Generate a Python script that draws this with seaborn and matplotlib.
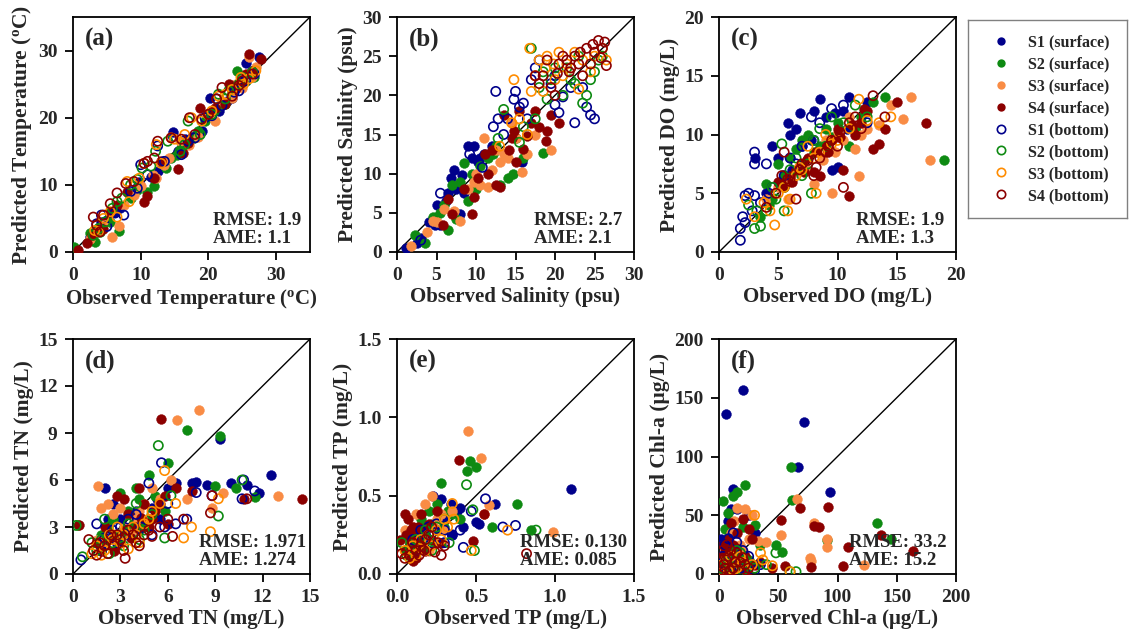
import matplotlib
matplotlib.use("Agg")
import matplotlib.pyplot as plt
from matplotlib.lines import Line2D
import seaborn as sns
import pandas as pd

# ---------------- data: (observed, predicted) pairs ----------------
series_names = ["S1 (surface)", "S2 (surface)", "S3 (surface)", "S4 (surface)",
                "S1 (bottom)", "S2 (bottom)", "S3 (bottom)", "S4 (bottom)"]

# (a) Temperature
a_s1_surf = [(3.5,3.0),(4.2,4.5),(5.0,4.8),(6.2,6.0),(7.0,6.5),(9.8,10.5),(11.5,11.2),(13.5,13.0),(14.8,17.8),(15.5,15.0),(16.5,16.8),(19.0,18.0),(20.2,23.0),(21.5,21.0),(22.8,22.5),(24.0,24.5),(25.5,28.2),(26.5,27.0),(27.5,29.0),(8.5,8.2),(12.5,12.0),(17.5,17.2),(23.5,23.0),(25.0,25.5),(2.5,2.2)]
a_s2_surf = [(0.2,0.8),(3.2,1.5),(4.0,3.0),(5.5,4.5),(6.8,3.2),(8.5,8.0),(11.0,9.0),(12.0,9.8),(13.8,12.5),(15.3,14.5),(16.0,15.5),(17.8,17.0),(19.5,19.5),(20.8,21.0),(22.5,22.0),(24.2,27.0),(25.5,25.5),(26.8,26.0),(2.5,2.8),(9.5,9.2),(14.5,14.0),(18.5,18.0),(21.5,21.8),(23.5,23.8)]
a_s3_surf = [(2.5,2.0),(3.8,3.5),(5.8,2.3),(6.8,3.8),(7.5,7.0),(10.0,9.8),(11.8,11.5),(12.3,11.0),(14.2,14.0),(15.8,16.5),(17.2,16.0),(18.5,17.2),(21.0,19.5),(22.0,22.5),(23.5,23.0),(25.0,24.5),(26.0,29.0),(27.0,27.5),(4.5,4.2),(9.0,8.5),(13.5,13.0),(20.0,20.5),(24.0,25.0),(26.5,26.0)]
a_s4_surf = [(0.8,0.3),(2.0,1.3),(2.8,2.5),(4.5,3.5),(5.5,6.0),(8.0,9.0),(10.5,7.5),(11.0,8.3),(12.0,11.0),(15.5,12.3),(16.2,14.8),(17.0,16.3),(18.8,21.5),(20.2,20.8),(22.5,22.0),(23.0,25.0),(24.8,25.2),(26.0,29.5),(26.5,27.0),(27.8,28.8),(3.5,3.5),(6.5,7.0),(13.0,13.5),(21.0,21.5),(24.0,24.5),(25.5,26.5)]
a_s1_bot = [(3.5,4.2),(5.0,3.8),(6.2,5.8),(7.5,5.5),(9.5,9.5),(10.0,13.0),(12.5,15.8),(13.5,13.5),(14.8,17.2),(16.0,14.5),(18.0,17.0),(19.5,20.0),(21.2,22.8),(22.0,21.8),(23.8,23.8),(25.5,25.5),(26.8,26.5),(4.2,5.5),(8.5,9.0),(11.0,11.5),(17.0,16.5),(20.5,20.3),(24.5,24.0)]
a_s2_bot = [(3.0,2.5),(4.8,4.5),(5.8,6.5),(7.2,8.0),(8.5,10.0),(10.2,12.5),(11.5,12.8),(12.2,15.0),(14.0,16.5),(15.8,15.0),(17.0,19.5),(18.8,17.5),(20.5,20.5),(21.5,23.5),(23.0,24.0),(25.0,26.0),(26.5,26.8),(3.8,3.5),(6.5,7.5),(9.5,10.8),(16.5,16.0),(22.5,22.8),(24.5,25.0)]
a_s3_bot = [(3.2,3.2),(4.5,5.0),(6.5,5.2),(8.3,7.5),(8.0,10.5),(10.5,13.2),(12.3,16.0),(13.0,13.2),(14.5,17.0),(16.5,17.5),(17.5,20.0),(19.0,19.5),(20.5,21.0),(21.5,23.2),(23.5,24.2),(25.2,25.0),(26.0,25.8),(27.0,27.0),(3.8,3.0),(5.5,6.0),(9.8,11.0),(15.0,16.8),(22.5,23.5),(24.8,26.0)]
a_s4_bot = [(3.0,5.2),(4.0,3.0),(5.5,7.2),(6.5,8.8),(7.8,10.2),(10.5,13.2),(11.0,13.5),(12.0,14.0),(12.5,16.5),(14.5,17.0),(17.2,20.0),(18.0,17.5),(19.0,19.8),(21.2,22.8),(22.0,24.5),(23.5,23.2),(25.0,25.5),(26.5,26.5),(3.5,4.0),(4.5,5.5),(9.0,10.5),(16.0,16.8),(20.0,20.5),(24.5,24.8)]

# (b) Salinity
b_s1_surf = [(1.2,0.5),(3.0,1.8),(4.8,3.5),(5.0,6.0),(5.5,3.5),(6.2,6.5),(6.8,9.5),(7.2,10.5),(7.5,8.0),(8.0,4.8),(8.5,7.5),(9.0,13.5),(9.5,12.0),(9.8,13.5),(10.2,11.5),(11.0,12.5),(12.0,13.5),(15.8,11.5),(2.5,1.2),(4.0,3.8),(6.5,7.5),(8.2,9.8),(10.5,12.0)]
b_s2_surf = [(2.3,2.2),(3.5,1.2),(5.5,5.0),(6.5,2.8),(7.0,8.5),(7.5,4.2),(8.5,11.3),(9.0,6.5),(9.5,10.0),(10.0,8.0),(11.5,12.0),(12.2,12.5),(13.0,8.5),(14.0,9.5),(15.0,14.5),(16.0,12.0),(18.5,12.7),(14.7,10.0),(4.5,4.5),(6.0,6.0),(8.0,9.0),(10.5,11.0),(12.5,13.5)]
b_s3_surf = [(1.8,0.8),(3.8,2.5),(4.5,4.0),(6.0,5.5),(7.2,5.2),(8.0,4.0),(9.8,9.0),(10.5,8.5),(11.0,14.5),(11.5,8.3),(12.0,10.5),(13.0,11.5),(14.0,12.0),(15.0,14.5),(15.8,10.2),(16.5,12.5),(17.5,15.0),(19.5,13.0),(14.5,16.5),(5.0,3.8),(9.0,8.0),(10.0,10.0),(12.5,13.0),(13.5,12.5)]
b_s4_surf = [(5.8,3.5),(6.5,6.8),(7.0,4.8),(9.5,4.8),(9.8,7.0),(10.2,9.5),(11.2,12.5),(12.5,8.5),(13.0,8.3),(13.5,17.5),(14.2,13.0),(14.8,15.5),(15.0,11.5),(15.5,18.0),(16.0,13.2),(17.0,16.5),(18.0,16.0),(19.0,15.5),(19.5,17.5),(20.5,16.5),(18.8,14.2),(8.5,8.0),(11.5,10.0),(12.0,13.0),(14.5,14.5),(16.5,14.8),(17.5,18.0)]
b_s1_bot = [(3.0,1.5),(5.5,7.5),(9.2,12.5),(10.8,10.8),(12.2,16.0),(12.5,20.5),(12.8,17.0),(13.5,15.0),(14.8,19.5),(15.0,20.5),(16.0,19.0),(16.5,17.0),(17.5,23.5),(18.0,24.5),(19.5,21.5),(20.0,18.8),(20.5,17.8),(21.0,19.8),(22.5,16.5),(23.5,21.0),(24.0,18.5),(24.5,17.5),(25.0,17.0),(20.0,22.5),(14.0,17.0),(15.5,18.5),(17.0,22.0),(22.0,21.0)]
b_s2_bot = [(12.8,14.5),(13.5,18.2),(15.5,14.0),(17.0,26.0),(17.5,17.0),(18.0,21.0),(18.5,23.0),(19.0,19.5),(20.0,23.5),(21.0,20.0),(22.0,22.0),(22.5,21.5),(23.0,25.0),(23.5,19.0),(24.5,22.0),(25.0,23.0),(25.5,24.5),(26.0,25.0),(16.0,16.0),(19.5,22.0),(21.5,23.5),(24.0,20.0)]
b_s3_bot = [(13.0,13.5),(14.5,16.5),(14.8,22.0),(16.5,15.0),(16.8,26.0),(17.0,20.5),(17.5,22.5),(18.0,24.5),(18.5,20.5),(19.0,25.0),(20.0,22.0),(20.5,25.5),(21.5,24.0),(22.0,23.5),(23.0,20.8),(23.5,24.5),(24.5,23.0),(25.0,25.0),(26.0,26.0),(26.5,24.5),(15.5,17.0),(18.8,23.5),(19.8,24.0),(21.0,22.5),(22.5,25.5)]
b_s4_bot = [(17.5,22.5),(18.0,21.5),(18.5,22.5),(19.0,24.5),(19.5,21.0),(20.0,20.0),(20.5,24.0),(21.0,25.0),(21.5,24.5),(22.0,23.5),(22.5,25.0),(23.0,24.0),(23.5,22.5),(24.0,26.0),(24.5,24.0),(25.0,25.5),(25.5,27.0),(26.0,26.0),(26.5,23.8),(26.3,26.8),(20.3,22.8),(21.8,23.0),(23.2,25.5),(24.8,26.5),(25.8,24.8)]

# (c) DO
c_s1_surf = [(3.0,8.0),(4.5,9.0),(5.0,8.0),(5.5,6.5),(5.8,11.0),(6.0,10.0),(6.5,10.5),(6.8,11.8),(7.0,9.0),(7.5,7.0),(8.0,12.0),(8.5,13.0),(9.0,11.5),(9.5,7.0),(10.0,7.2),(10.5,12.0),(11.0,13.2),(11.5,10.5),(12.5,12.8),(4.0,5.0),(6.2,7.0),(7.8,9.5),(9.8,11.8),(10.8,10.5)]
c_s2_surf = [(3.5,3.0),(4.0,5.8),(4.5,4.5),(5.0,7.5),(5.5,6.5),(6.0,8.0),(7.0,9.5),(7.5,10.0),(8.0,8.5),(9.0,10.5),(10.0,11.0),(11.0,9.0),(12.0,11.5),(13.0,12.8),(14.0,13.2),(19.0,7.8),(6.5,8.8),(4.2,4.0),(5.8,6.0),(6.8,7.0),(8.5,9.0),(9.5,9.8),(11.5,10.5)]
c_s3_surf = [(4.0,4.5),(5.0,5.5),(5.8,4.5),(6.0,6.0),(7.0,7.5),(8.0,5.8),(8.5,8.5),(9.0,9.5),(9.5,5.0),(10.0,10.2),(11.0,11.5),(11.5,8.8),(11.8,6.5),(12.5,10.5),(13.5,10.8),(14.5,12.5),(15.5,11.3),(16.2,13.2),(17.8,7.8),(6.5,6.8),(7.5,7.0),(8.8,7.8),(9.8,8.5),(10.5,9.5),(12.0,10.0)]
c_s4_surf = [(5.0,6.0),(5.5,5.5),(6.0,6.5),(6.5,7.0),(7.0,7.5),(7.5,8.0),(8.0,6.8),(8.5,6.5),(9.0,9.0),(9.5,9.5),(10.0,10.5),(10.5,7.0),(11.0,4.8),(11.5,10.0),(12.0,11.0),(12.5,12.0),(13.0,8.8),(13.5,9.2),(14.0,10.5),(15.0,12.8),(17.5,11.0),(6.2,6.0),(7.2,6.8),(8.2,8.5),(9.2,8.5),(10.2,9.8),(11.2,10.8),(12.2,12.2)]
c_s1_bot = [(1.8,1.0),(1.8,2.0),(2.0,3.0),(2.2,2.5),(2.5,5.0),(2.2,4.8),(2.8,3.5),(3.0,4.8),(3.0,8.5),(3.0,7.5),(4.0,7.5),(4.5,5.5),(5.5,6.5),(6.0,8.0),(7.0,9.0),(7.8,11.5),(8.5,11.0),(9.5,12.2),(10.5,12.5),(12.5,11.0),(3.5,4.2),(4.2,5.0),(6.5,7.5),(8.0,9.5)]
c_s2_bot = [(2.5,4.0),(3.0,2.0),(3.2,3.5),(3.5,2.2),(4.0,3.5),(4.8,4.5),(5.3,9.2),(5.5,3.5),(6.0,7.0),(6.5,8.0),(7.5,7.5),(7.8,5.0),(8.0,9.5),(8.5,10.5),(9.5,11.5),(10.5,11.0),(11.5,12.5),(12.5,11.5),(4.5,5.5),(5.5,5.5),(7.0,6.5),(9.0,9.0)]
c_s3_bot = [(2.3,4.5),(3.0,3.0),(3.8,4.2),(4.3,3.5),(4.7,2.3),(5.0,5.0),(5.8,3.5),(6.0,4.5),(6.5,6.5),(7.0,7.0),(7.5,9.0),(8.2,5.0),(8.5,8.5),(9.0,10.0),(10.0,9.5),(11.0,10.5),(11.8,13.0),(13.5,11.0),(14.5,11.5),(5.5,5.5),(6.8,7.2),(8.0,8.0),(9.5,9.2),(12.5,11.2)]
c_s4_bot = [(4.0,3.8),(4.8,5.0),(5.3,6.5),(5.5,8.5),(6.0,6.0),(6.5,4.5),(6.8,7.0),(7.5,7.8),(8.0,6.5),(8.5,8.0),(9.0,8.5),(9.5,9.5),(10.0,9.0),(10.5,5.5),(11.0,11.0),(12.0,10.5),(13.0,13.3),(14.0,11.5),(5.8,6.2),(7.0,7.5),(8.2,7.2),(9.2,9.0),(10.2,10.2),(11.5,11.5)]

# (d) TN
d_s1_surf = [(2.0,5.5),(2.5,4.5),(3.0,3.5),(3.5,2.5),(4.0,4.0),(4.5,3.0),(5.0,4.2),(5.5,3.5),(6.0,5.5),(6.5,5.8),(7.5,5.8),(7.8,5.9),(8.5,5.7),(9.3,8.6),(10.0,5.8),(11.0,5.7),(11.8,5.2),(12.5,6.3),(4.2,2.8),(2.2,3.5),(3.2,3.0),(4.8,3.5),(5.3,4.8)]
d_s2_surf = [(0.3,3.1),(1.8,2.5),(2.5,3.5),(3.0,5.2),(3.5,4.0),(4.0,5.5),(4.5,3.0),(4.8,6.3),(5.2,5.0),(5.8,4.0),(6.0,7.1),(7.2,9.2),(9.0,5.6),(9.3,8.8),(10.3,5.5),(11.5,4.9),(2.2,3.0),(2.8,2.5),(3.8,3.2),(4.2,4.8),(1.5,2.0)]
d_s3_surf = [(1.6,5.6),(1.8,4.2),(2.2,4.5),(2.5,3.8),(3.0,4.2),(3.5,2.5),(4.0,3.5),(4.5,4.5),(5.0,5.5),(5.5,4.8),(6.2,6.0),(6.6,9.8),(7.2,4.8),(8.0,10.5),(8.8,4.2),(9.5,5.2),(13.0,5.0),(2.0,2.0),(1.5,2.2),(2.8,2.0),(3.2,3.0),(3.8,2.8),(4.2,4.0),(4.8,3.5),(1.8,1.5)]
d_s4_surf = [(0.4,3.1),(1.5,2.0),(2.0,3.0),(2.5,2.5),(2.8,5.0),(3.2,4.8),(3.5,3.8),(4.0,3.0),(4.2,5.5),(4.5,4.5),(5.0,3.5),(5.5,4.5),(5.6,9.9),(6.0,3.2),(6.5,5.5),(7.5,5.3),(10.8,4.8),(14.5,4.8),(3.0,2.0),(1.8,1.5),(2.2,2.2),(2.6,1.5),(3.3,2.8),(3.7,2.3),(4.3,3.6),(4.8,3.0),(5.2,4.0),(5.8,5.0)]
d_s1_bot = [(0.5,0.9),(1.5,3.2),(2.0,2.3),(2.5,2.8),(3.0,3.0),(3.5,3.5),(4.0,3.8),(4.8,5.8),(5.0,2.5),(5.6,7.1),(5.8,3.0),(6.0,4.5),(6.5,3.2),(7.2,3.5),(7.8,5.2),(8.8,5.0),(10.7,4.8),(11.5,5.3),(10.8,6.0),(1.8,1.5),(2.8,2.0),(3.3,2.5),(4.3,3.0)]
d_s2_bot = [(0.2,3.1),(0.6,1.1),(1.5,1.5),(2.0,3.5),(2.5,2.0),(3.0,2.5),(3.5,3.2),(4.0,4.5),(4.5,2.8),(5.0,3.8),(5.4,8.2),(5.8,2.3),(6.2,5.0),(9.2,3.7),(10.7,6.0),(1.2,2.0),(1.8,2.2),(2.3,1.3),(3.2,1.8),(4.2,2.2)]
d_s3_bot = [(1.5,1.8),(2.0,1.5),(2.5,2.2),(3.0,2.0),(3.5,1.6),(4.0,2.5),(4.5,3.2),(5.0,4.0),(5.5,4.5),(5.8,6.6),(6.5,4.5),(7.0,2.3),(7.5,3.0),(8.7,2.7),(9.2,4.8),(4.8,3.5),(2.8,3.0),(1.2,1.3),(1.8,1.2),(2.3,2.5),(3.2,2.5),(3.8,3.0),(4.2,2.0)]
d_s4_bot = [(1.0,2.2),(1.3,1.5),(1.7,2.0),(2.2,1.3),(2.6,1.8),(3.0,2.2),(3.3,1.0),(3.5,2.8),(4.0,2.0),(4.5,2.5),(5.0,2.4),(5.5,3.0),(6.0,3.5),(6.3,2.4),(7.0,3.5),(8.7,3.9),(8.8,5.0),(11.0,4.8),(2.8,2.5),(1.5,1.2),(2.0,1.8),(2.4,2.5),(3.2,1.5),(3.8,2.5),(4.2,1.8),(4.8,2.8)]

# (e) TP
e_s1_surf = [(0.10,0.20),(0.15,0.25),(0.20,0.30),(0.23,0.50),(0.28,0.48),(0.30,0.35),(0.34,0.45),(0.38,0.40),(0.40,0.42),(0.42,0.30),(0.50,0.33),(0.52,0.32),(0.62,0.45),(1.10,0.54),(0.35,0.25),(0.12,0.18),(0.18,0.22),(0.25,0.28),(0.32,0.38)]
e_s2_surf = [(0.08,0.25),(0.15,0.35),(0.20,0.40),(0.25,0.45),(0.28,0.58),(0.32,0.40),(0.40,0.35),(0.44,0.66),(0.46,0.72),(0.50,0.68),(0.60,0.30),(0.76,0.45),(0.85,0.28),(0.30,0.30),(0.12,0.22),(0.10,0.18),(0.18,0.30),(0.22,0.32),(0.35,0.38)]
e_s3_surf = [(0.05,0.28),(0.10,0.30),(0.12,0.38),(0.18,0.45),(0.22,0.50),(0.25,0.35),(0.30,0.28),(0.35,0.40),(0.45,0.91),(0.53,0.74),(0.55,0.38),(0.58,0.44),(0.99,0.27),(0.15,0.20),(0.20,0.15),(0.08,0.20),(0.12,0.15),(0.18,0.25),(0.22,0.30),(0.28,0.38)]
e_s4_surf = [(0.02,0.22),(0.05,0.38),(0.07,0.35),(0.10,0.15),(0.10,0.30),(0.12,0.25),(0.14,0.20),(0.15,0.38),(0.18,0.28),(0.20,0.32),(0.25,0.40),(0.28,0.20),(0.39,0.73),(0.48,0.21),(0.55,0.38),(0.08,0.12),(0.12,0.10),(0.05,0.15),(0.06,0.25),(0.08,0.20),(0.09,0.28),(0.11,0.18),(0.13,0.30),(0.16,0.24),(0.18,0.15),(0.22,0.22),(0.10,0.08)]
e_s1_bot = [(0.10,0.22),(0.15,0.28),(0.20,0.30),(0.25,0.32),(0.30,0.20),(0.35,0.25),(0.40,0.28),(0.42,0.17),(0.47,0.40),(0.56,0.48),(0.67,0.30),(0.75,0.31),(0.18,0.25),(0.12,0.15),(0.22,0.20),(0.30,0.28)]
e_s2_bot = [(0.03,0.20),(0.08,0.15),(0.12,0.22),(0.18,0.28),(0.25,0.30),(0.30,0.35),(0.33,0.20),(0.44,0.57),(0.48,0.41),(0.49,0.15),(0.88,0.28),(0.22,0.15),(0.06,0.12),(0.15,0.18),(0.20,0.22)]
e_s3_bot = [(0.05,0.15),(0.10,0.18),(0.15,0.22),(0.20,0.25),(0.25,0.28),(0.30,0.35),(0.35,0.45),(0.36,0.35),(0.47,0.15),(0.70,0.28),(0.12,0.12),(0.22,0.18),(0.08,0.10),(0.18,0.15),(0.28,0.22),(0.32,0.30)]
e_s4_bot = [(0.03,0.13),(0.08,0.12),(0.12,0.15),(0.15,0.18),(0.18,0.22),(0.22,0.30),(0.24,0.14),(0.28,0.12),(0.30,0.18),(0.82,0.13),(0.20,0.25),(0.05,0.10),(0.10,0.20),(0.14,0.12),(0.17,0.15),(0.26,0.20)]

# (f) Chl-a
f_s1_surf = [(2,30),(5,25),(6,136),(8,45),(10,55),(12,72),(15,55),(20,157),(25,50),(30,35),(67,91),(72,129),(94,70),(3,10),(8,18),(15,8),(4,5),(6,12),(9,20),(12,3),(18,14)]
f_s2_surf = [(3,62),(5,38),(8,52),(12,66),(15,70),(20,40),(22,76),(30,42),(35,25),(48,25),(53,19),(61,91),(62,63),(91,29),(133,43),(145,30),(10,15),(18,8),(4,8),(7,20),(14,5),(22,3),(25,12)]
f_s3_surf = [(5,15),(8,25),(10,35),(13,45),(15,56),(20,20),(22,55),(25,30),(28,50),(33,28),(40,27),(52,33),(66,64),(77,14),(78,11),(80,43),(91,30),(91,23),(122,8),(3,5),(12,8),(2,2),(6,18),(9,6),(16,12),(18,25),(24,5)]
f_s4_surf = [(2,5),(4,10),(5,20),(8,30),(10,43),(12,25),(15,35),(20,47),(25,38),(28,30),(35,10),(45,5),(52,46),(56,7),(68,56),(78,6),(80,41),(84,40),(92,57),(105,7),(109,23),(137,33),(164,20),(6,3),(10,2),(1,8),(3,15),(4,2),(5,12),(7,6),(9,18),(11,10),(13,4),(14,22),(17,12),(19,5),(22,15),(24,2),(30,8),(3,25),(8,10)]
f_s1_bot = [(3,15),(5,25),(8,30),(12,35),(15,27),(20,20),(25,15),(30,3),(35,8),(18,5),(10,10),(6,5),(14,12)]
f_s2_bot = [(2,5),(5,10),(8,12),(15,20),(18,18),(22,12),(30,5),(40,8),(48,18),(60,2),(65,2),(12,3),(9,6),(20,3)]
f_s3_bot = [(3,8),(6,12),(10,15),(15,5),(20,10),(28,8),(35,18),(37,12),(45,7),(60,2),(30,50),(8,2),(12,3),(18,15)]
f_s4_bot = [(2,3),(4,8),(6,12),(8,15),(10,20),(12,5),(15,18),(18,10),(22,8),(25,5),(3,20),(7,25),(5,5),(9,3),(14,10),(20,14)]

panel_labels = ["(a)", "(b)", "(c)", "(d)", "(e)", "(f)"]
x_labels = ["Observed Temperature ($^{\\mathrm{o}}$C)", "Observed Salinity (psu)", "Observed DO (mg/L)",
            "Observed TN (mg/L)", "Observed TP (mg/L)", "Observed Chl-a (\u03bcg/L)"]
y_labels = ["Predicted Temperature ($^{\\mathrm{o}}$C)", "Predicted Salinity (psu)", "Predicted DO (mg/L)",
            "Predicted TN (mg/L)", "Predicted TP (mg/L)", "Predicted Chl-a (\u03bcg/L)"]
rmse_vals = ["1.9", "2.7", "1.9", "1.971", "0.130", "33.2"]
ame_vals = ["1.1", "2.1", "1.3", "1.274", "0.085", "15.2"]
axis_max = [35, 30, 20, 15, 1.5, 200]
tick_vals = [[0, 10, 20, 30], [0, 5, 10, 15, 20, 25, 30], [0, 5, 10, 15, 20],
             [0, 3, 6, 9, 12, 15], [0.0, 0.5, 1.0, 1.5], [0, 50, 100, 150, 200]]
tick_fmt = ["{:.0f}", "{:.0f}", "{:.0f}", "{:.0f}", "{:.1f}", "{:.0f}"]
stat_x = [0.59, 0.58, 0.58, 0.53, 0.52, 0.55]

panel_data = [
    [a_s1_surf, a_s2_surf, a_s3_surf, a_s4_surf, a_s1_bot, a_s2_bot, a_s3_bot, a_s4_bot],
    [b_s1_surf, b_s2_surf, b_s3_surf, b_s4_surf, b_s1_bot, b_s2_bot, b_s3_bot, b_s4_bot],
    [c_s1_surf, c_s2_surf, c_s3_surf, c_s4_surf, c_s1_bot, c_s2_bot, c_s3_bot, c_s4_bot],
    [d_s1_surf, d_s2_surf, d_s3_surf, d_s4_surf, d_s1_bot, d_s2_bot, d_s3_bot, d_s4_bot],
    [e_s1_surf, e_s2_surf, e_s3_surf, e_s4_surf, e_s1_bot, e_s2_bot, e_s3_bot, e_s4_bot],
    [f_s1_surf, f_s2_surf, f_s3_surf, f_s4_surf, f_s1_bot, f_s2_bot, f_s3_bot, f_s4_bot],
]

# ---------------- styling ----------------
colors = ["#00008B", "#0E8A12", "#F98C45", "#8B0000",
          "#00008B", "#0E8A12", "#FF8C00", "#8B0000"]
filled = [True, True, True, True, False, False, False, False]

sns.set_theme(style="white")
plt.rcParams["font.family"] = ["Liberation Serif", "DejaVu Serif"]
plt.rcParams["font.weight"] = "bold"
plt.rcParams["axes.labelweight"] = "bold"
plt.rcParams["mathtext.fontset"] = "custom"
plt.rcParams["mathtext.rm"] = "Liberation Serif:bold"
plt.rcParams["mathtext.it"] = "Liberation Serif:bold"

fig = plt.figure(figsize=(11.29, 6.44), dpi=100)

lefts = [73, 397, 719]
w_px, h_px = 237, 235
bottoms_px = [252, 574]

for i in range(6):
    r, c = divmod(i, 3)
    ax = fig.add_axes([lefts[c] / 1129, (644 - bottoms_px[r]) / 644, w_px / 1129, h_px / 644])
    for k in range(8):
        pts = panel_data[i][k]
        df = pd.DataFrame(pts, columns=["obs", "pred"])
        if filled[k]:
            sns.scatterplot(data=df, x="obs", y="pred", ax=ax, s=50, color=colors[k],
                            edgecolor=colors[k], linewidth=0.3, zorder=3)
        else:
            sns.scatterplot(data=df, x="obs", y="pred", ax=ax, s=44, color=colors[k],
                            facecolor="none", edgecolor=colors[k], linewidth=1.2, zorder=3)
    m = axis_max[i]
    ax.axline((0, 0), slope=1, color="black", lw=1.0, zorder=2)
    ax.set_xlim(0, m)
    ax.set_ylim(0, m)
    ax.set_xticks(tick_vals[i])
    ax.set_yticks(tick_vals[i])
    ax.set_xticklabels([tick_fmt[i].format(v) for v in tick_vals[i]])
    ax.set_yticklabels([tick_fmt[i].format(v) for v in tick_vals[i]])
    ax.tick_params(axis="both", which="major", direction="out", length=6, width=1.3,
                   labelsize=14, pad=5, bottom=True, left=True, color="black")
    for lab in ax.get_xticklabels() + ax.get_yticklabels():
        lab.set_fontweight("bold")
    for sp in ax.spines.values():
        sp.set_color("black")
        sp.set_linewidth(1.3)
    ax.set_xlabel(x_labels[i], fontsize=15, fontweight="bold", labelpad=2)
    ax.set_ylabel(y_labels[i], fontsize=15.5, fontweight="bold", labelpad=3)
    ax.text(0.05, 0.955, panel_labels[i], transform=ax.transAxes, ha="left", va="top",
            fontsize=18, fontweight="bold")
    ax.text(stat_x[i], 0.02, "RMSE: " + rmse_vals[i] + "\nAME: " + ame_vals[i],
            transform=ax.transAxes, ha="left", va="bottom", fontsize=13.5,
            fontweight="bold", linespacing=1.1, zorder=5)

# legend box
lax = fig.add_axes([968 / 1129, (644 - 218) / 644, 159 / 1129, 198 / 644])
lax.set_xticks([])
lax.set_yticks([])
for sp in lax.spines.values():
    sp.set_color("#808080")
    sp.set_linewidth(1.0)
handles = []
for k in range(8):
    if filled[k]:
        h = Line2D([], [], linestyle="none", marker="o", markersize=6,
                   markerfacecolor=colors[k], markeredgecolor=colors[k], markeredgewidth=0)
    else:
        h = Line2D([], [], linestyle="none", marker="o", markersize=6,
                   markerfacecolor="none", markeredgecolor=colors[k], markeredgewidth=1.2)
    handles.append(h)
lax.legend(handles, series_names, loc="upper left", bbox_to_anchor=(0.1, 0.975),
           frameon=False, prop={"size": 11.5, "weight": "bold"}, handlelength=1.0,
           handletextpad=1.15, labelspacing=0.37, borderaxespad=0.2)

fig.savefig("out.png", dpi=100)
